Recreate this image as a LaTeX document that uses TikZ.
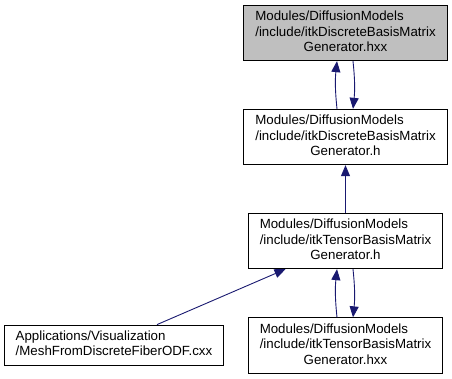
\documentclass[tikz,border=0pt]{standalone}
\usepackage{fontspec}
\setmainfont{Liberation Sans}
\usetikzlibrary{arrows.meta}
\definecolor{edgeblue}{HTML}{191970}
\definecolor{curfile}{HTML}{BFBFBF}
\begin{document}
\begin{tikzpicture}[x=1pt,y=-1pt,
  file/.style={draw=black,line width=0.8pt,fill=white,inner xsep=11.5pt,inner ysep=4.5pt,
    font=\fontsize{13.3}{15.5}\selectfont},
  edge/.style={draw=edgeblue,line width=0.9pt,-{Triangle[length=11pt,width=9pt]}}]
  \useasboundingbox (0,0) rectangle (452,379);
  \node (dbmhxx) at (345.5,33) [file,fill=curfile] {\begin{tabular}{@{}l@{}}Modules/DiffusionModels\\/include/itkDiscreteBasisMatrix\\\multicolumn{1}{@{}c@{}}{Generator.hxx}\end{tabular}};
  \node (dbmh) at (345.5,137) [file] {\begin{tabular}{@{}l@{}}Modules/DiffusionModels\\/include/itkDiscreteBasisMatrix\\\multicolumn{1}{@{}c@{}}{Generator.h}\end{tabular}};
  \node (tbmh) at (345.5,241) [file] {\begin{tabular}{@{}l@{}}Modules/DiffusionModels\\/include/itkTensorBasisMatrix\\\multicolumn{1}{@{}c@{}}{Generator.h}\end{tabular}};
  \node (tbmhxx) at (345.5,345.5) [file] {\begin{tabular}{@{}l@{}}Modules/DiffusionModels\\/include/itkTensorBasisMatrix\\\multicolumn{1}{@{}c@{}}{Generator.hxx}\end{tabular}};
  \node (meshodf) at (114,345) [file] {\begin{tabular}{@{}l@{}}Applications/Visualization\\/MeshFromDiscreteFiberODF.cxx\end{tabular}};
  % include dependencies
  \draw[edge] ([xshift=-8.5pt]dbmh.north) to[bend left=6] ([xshift=-8.5pt]dbmhxx.south);
  \draw[edge] ([xshift=7.5pt]dbmhxx.south) to[bend left=6] ([xshift=7.5pt]dbmh.north);
  \draw[edge] (tbmh) -- (dbmh);
  \draw[edge] ([xshift=43pt]meshodf.north) -- ([xshift=-60pt]tbmh.south);
  \draw[edge] ([xshift=-8.5pt]tbmhxx.north) to[bend left=6] ([xshift=-8.5pt]tbmh.south);
  \draw[edge] ([xshift=7.5pt]tbmh.south) to[bend left=6] ([xshift=7.5pt]tbmhxx.north);
\end{tikzpicture}
\end{document}
